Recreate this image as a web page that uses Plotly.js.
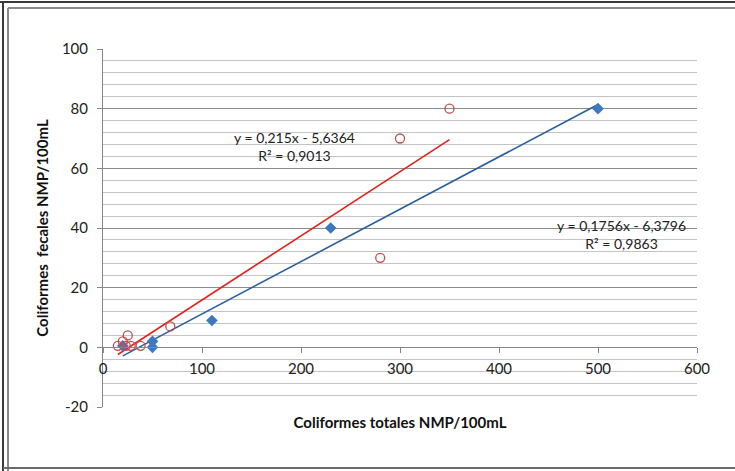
<!DOCTYPE html>
<html>
<head>
<meta charset="utf-8">
<script src="https://cdn.plot.ly/plotly-3.0.1.min.js"></script>
<style>
  html, body { margin: 0; padding: 0; background: #fff; overflow: hidden; }
  #chart { width: 735px; height: 471px; }
</style>
</head>
<body>
<div id="chart"></div>
<script>
// Series 1 (blue diamonds)
const blueX = [20, 50, 50, 110, 230, 500];
const blueY = [0.5, 2, 0, 9, 40, 80];
// Series 2 (red open circles)
const redX = [15, 20, 23, 25, 28, 38, 68, 280, 300, 350];
const redY = [0.5, 2, 0.5, 4, 0.5, 0.5, 7, 30, 70, 80];
// Linear trendlines (coefficients as printed on the chart)
const blueSlope = 0.1756, blueIntercept = -6.3796, blueR2 = "0,9863";
const redSlope = 0.215, redIntercept = -5.6364, redR2 = "0,9013";
const blueEq = "y = 0,1756x - 6,3796";
const redEq = "y = 0,215x - 5,6364";
// Axis ticks
const xTicks = [0, 100, 200, 300, 400, 500, 600];
const yTicks = [-20, 0, 20, 40, 60, 80, 100];
const xTitle = "Coliformes totales NMP/100mL";
const yTitle = "Coliformes  fecales NMP/100mL";

function trend(xs, m, b) {
  const lo = Math.min(...xs), hi = Math.max(...xs);
  return { x: [lo, hi], y: [m * lo + b, m * hi + b] };
}
const bt = trend(blueX, blueSlope, blueIntercept);
const rt = trend(redX, redSlope, redIntercept);

const BLUE = '#3f78c0', BLUE_LINE = '#2b5f9e', RED = '#c0504d', RED_LINE = '#e3211c';
const FONT = 'Lato, "Open Sans", sans-serif';
const annFont = { family: FONT, size: 14, color: '#222' };

const W = 735, H = 471, L = 103, R = 38, T = 49, B = 64;
const pw = W - L - R, ph = H - T - B;
// frame helpers: pixel -> paper
const px = v => (v - L) / pw;
const py = v => (H - B - v) / ph;

const data = [
  { x: bt.x, y: bt.y, type: 'scatter', mode: 'lines', line: { color: BLUE_LINE, width: 1.6 }, showlegend: false, hoverinfo: 'skip' },
  { x: rt.x, y: rt.y, type: 'scatter', mode: 'lines', line: { color: RED_LINE, width: 1.6 }, showlegend: false, hoverinfo: 'skip' },
  { x: blueX, y: blueY, type: 'scatter', mode: 'markers', marker: { symbol: 'diamond', size: 9, color: BLUE }, showlegend: false },
  { x: redX, y: redY, type: 'scatter', mode: 'markers', marker: { symbol: 'circle-open', size: 9, color: RED, line: { width: 1.3, color: RED } }, showlegend: false }
];

const frameShapes = [
  { type: 'line', xref: 'paper', yref: 'paper', x0: px(0), x1: px(W), y0: py(2), y1: py(2), line: { color: '#3a3a3a', width: 2 }, layer: 'above' },
  { type: 'line', xref: 'paper', yref: 'paper', x0: px(3), x1: px(3), y0: py(1), y1: py(H), line: { color: '#3a3a3a', width: 2 }, layer: 'above' },
  { type: 'line', xref: 'paper', yref: 'paper', x0: px(8), x1: px(W), y0: py(8), y1: py(8), line: { color: '#8a8a8a', width: 2 }, layer: 'above' },
  { type: 'line', xref: 'paper', yref: 'paper', x0: px(8), x1: px(8), y0: py(8), y1: py(H), line: { color: '#8a8a8a', width: 2 }, layer: 'above' },
  { type: 'line', xref: 'paper', yref: 'paper', x0: px(3), x1: px(W), y0: py(468), y1: py(468), line: { color: '#6a6a6a', width: 2 }, layer: 'above' }
];

const layout = {
  width: W, height: H,
  margin: { l: L, r: R, t: T, b: B, pad: 0 },
  paper_bgcolor: '#fff', plot_bgcolor: '#fff',
  font: { family: FONT, size: 15, color: '#222' },
  showlegend: false,
  xaxis: {
    range: [0, 600], tickvals: xTicks, ticktext: xTicks.map(String),
    anchor: 'free', position: 20 / 120,
    showgrid: false, zeroline: false,
    showline: true, linecolor: '#868686', linewidth: 1,
    ticks: 'outside', ticklen: 5, tickcolor: '#868686',
    ticklabelstandoff: 3,
    tickfont: { family: FONT, size: 15, color: '#222' },
    title: { text: xTitle, font: { family: FONT, size: 15, color: '#111', weight: 'bold' }, standoff: 41 }
  },
  yaxis: {
    range: [-20, 100], tickvals: yTicks, ticktext: yTicks.map(String),
    showgrid: true, gridcolor: '#8c8c8c', gridwidth: 1,
    minor: { dtick: 4, showgrid: true, gridcolor: '#c4c4c4', gridwidth: 1, ticks: '' },
    zeroline: false,
    showline: true, linecolor: '#868686', linewidth: 1,
    ticks: 'outside', ticklen: 5, tickcolor: '#868686',
    ticklabelstandoff: 6,
    tickfont: { family: FONT, size: 15, color: '#222' },
    title: { text: yTitle, font: { family: FONT, size: 15, color: '#111', weight: 'bold' }, standoff: 9 }
  },
  shapes: frameShapes,
  annotations: [
    { x: 193, y: 67.2, xref: 'x', yref: 'y', text: redEq + '<br>R² = ' + redR2, align: 'center', showarrow: false, font: annFont, xanchor: 'center', yanchor: 'middle' },
    { x: 524, y: 37.9, xref: 'x', yref: 'y', text: blueEq + '<br>R² = ' + blueR2, align: 'center', showarrow: false, font: annFont, xanchor: 'center', yanchor: 'middle' }
  ]
};

Plotly.newPlot('chart', data, layout, { displayModeBar: false, staticPlot: true });
</script>
</body>
</html>
